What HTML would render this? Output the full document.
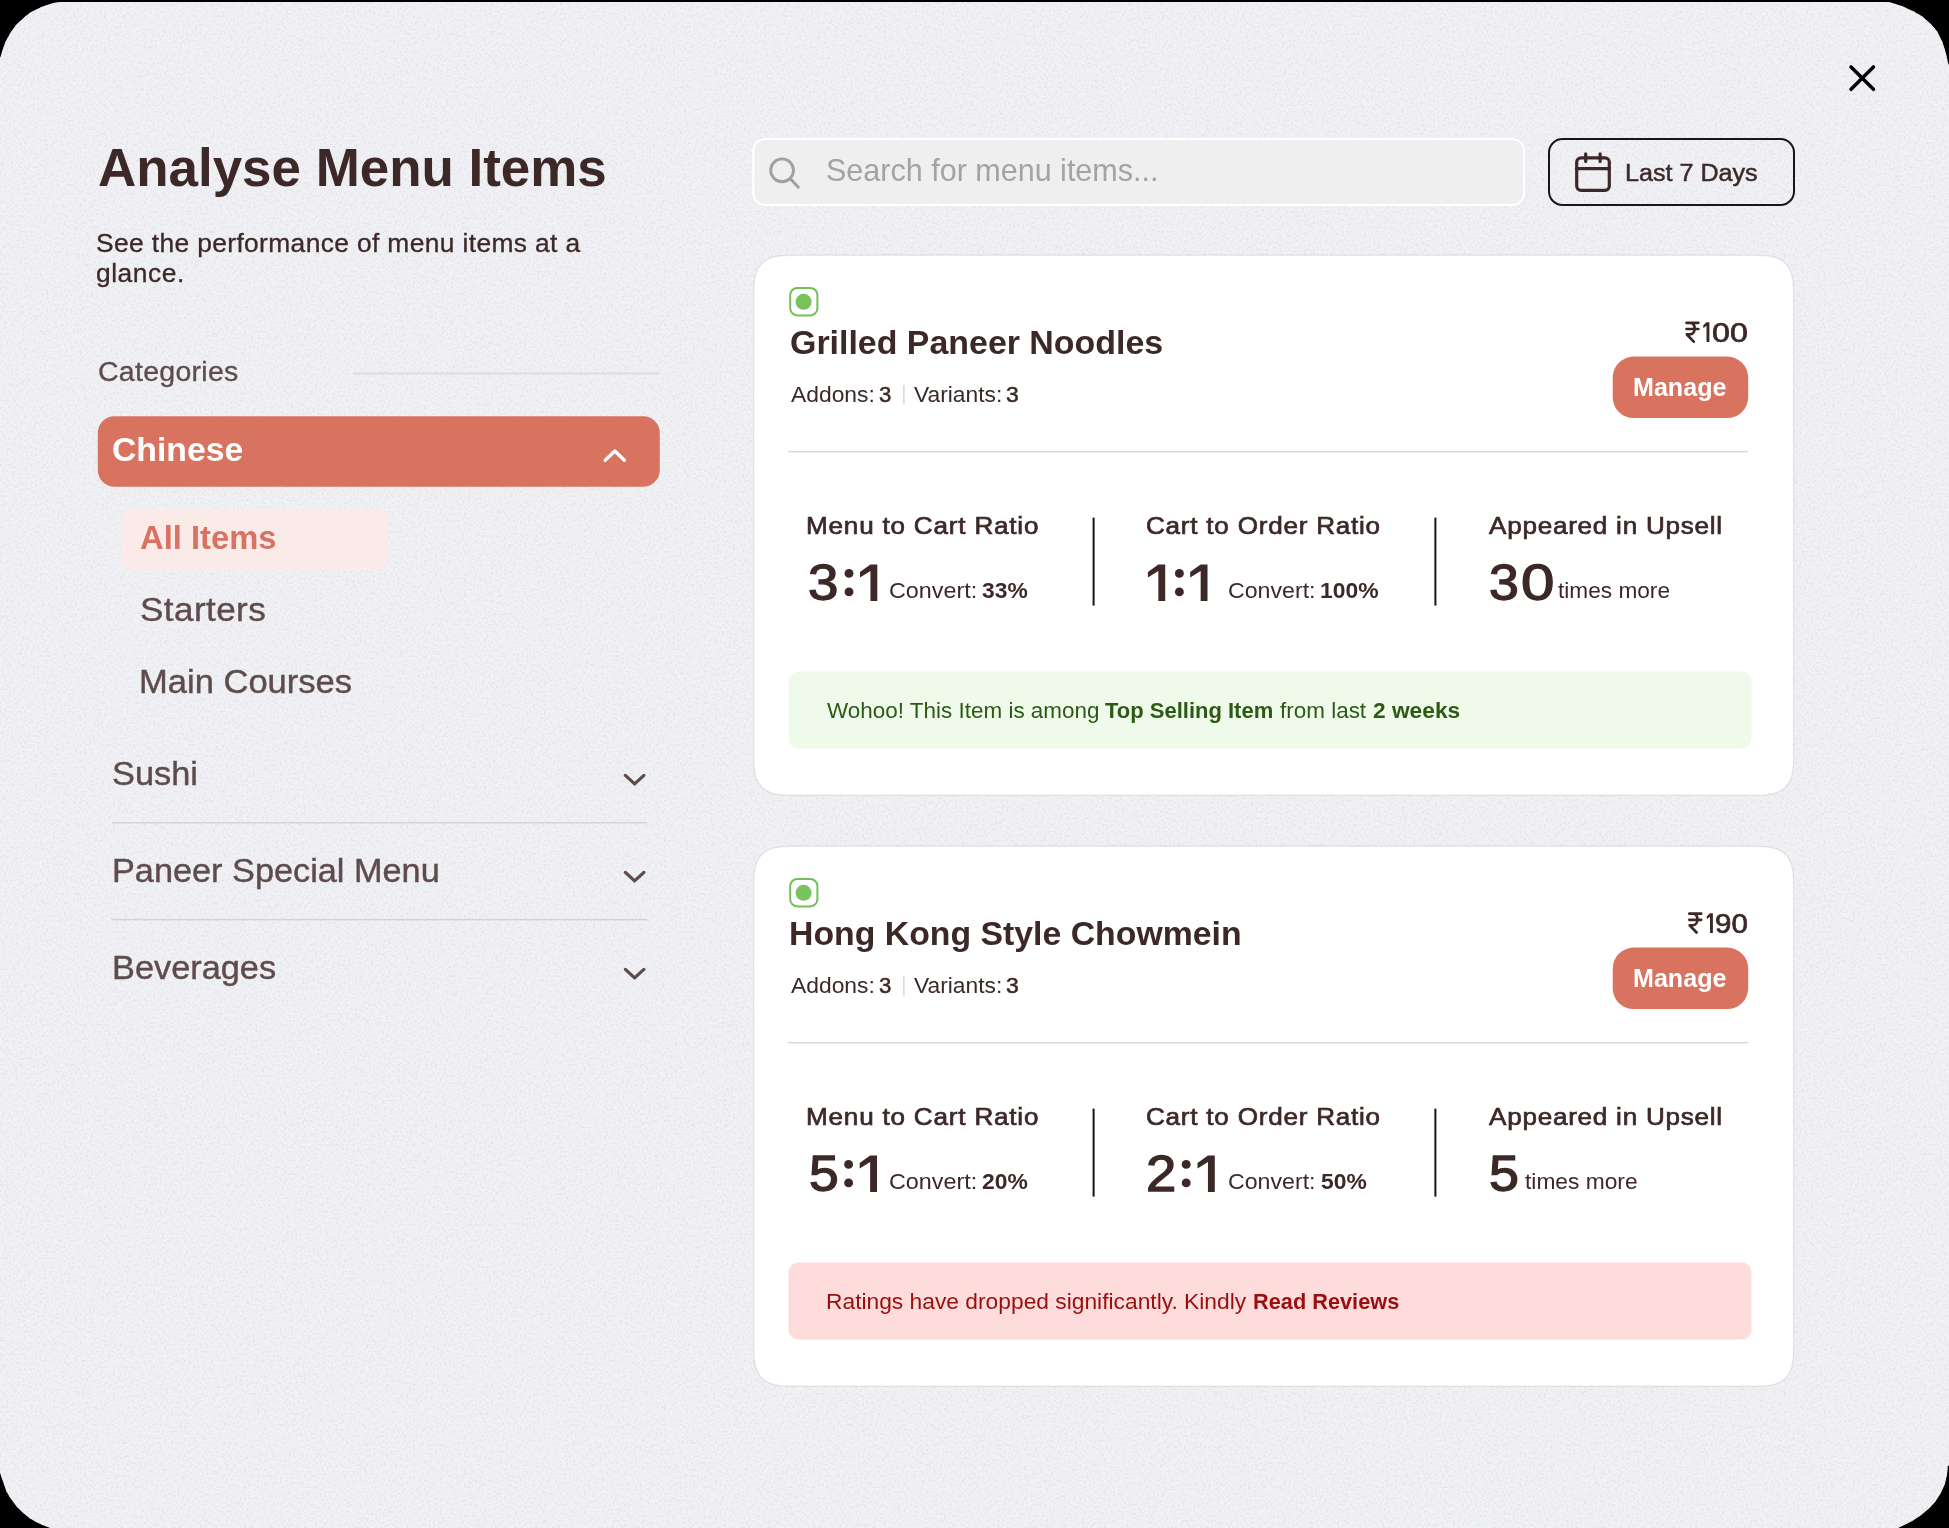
<!DOCTYPE html>
<html><head><meta charset="utf-8"><title>Analyse Menu Items</title>
<style>
html,body{margin:0;padding:0;background:#000;}
body{width:1949px;height:1528px;position:relative;overflow:hidden;font-family:"Liberation Sans",sans-serif;}
.abs,.t,.ln,.card{position:absolute;}
.t{white-space:nowrap;line-height:1;transform-origin:0 0;}
.card{left:754px;width:1040px;height:540px;border-radius:34px;background:#fff;box-shadow:0 0 0 1px rgba(120,120,140,0.10);}
</style></head><body>
<svg class="abs" style="left:0;top:0" width="1949" height="1528" viewBox="0 0 1949 1528">
<defs>
<filter id="nz" x="0" y="0" width="100%" height="100%" color-interpolation-filters="sRGB">
<feTurbulence type="fractalNoise" baseFrequency="0.45" numOctaves="1" seed="7" result="n"/>
<feColorMatrix in="n" type="matrix" values="0 0 0 0 0.908  0 0 0 0 0.906  0 0 0 0 0.927  6 0 0 0 -2.92"/>
</filter>
<clipPath id="pc"><path d="M0,58.6 L2.1,51.5 5.4,41.9 10.5,32.7 15.9,25.1 23.5,18 30.2,12.6 41.9,6.7 53.2,3.1 59.5,2 L1889.2,2 1901.8,5.9 1914.3,11.7 1922.7,16.8 1931.1,24.3 1937.4,31.8 1942.4,41.9 1945.7,52.4 1947.8,62 1949,66 L1949,1465.7 1947.8,1465.7 1947,1474.5 1944.9,1484.1 1940.7,1493.3 1935.3,1501.7 1929,1508.4 1920.6,1515.5 1912.2,1521 1903.8,1525.2 1898,1528 L50.3,1528 41.9,1524.7 35.6,1521.8 29.3,1518 22.6,1512.6 16.8,1506.7 10.5,1498.3 6.3,1491.2 4.2,1484.9 1.7,1477.8 0,1472.4 Z"/></clipPath>
</defs>
<path d="M0,58.6 L2.1,51.5 5.4,41.9 10.5,32.7 15.9,25.1 23.5,18 30.2,12.6 41.9,6.7 53.2,3.1 59.5,2 L1889.2,2 1901.8,5.9 1914.3,11.7 1922.7,16.8 1931.1,24.3 1937.4,31.8 1942.4,41.9 1945.7,52.4 1947.8,62 1949,66 L1949,1465.7 1947.8,1465.7 1947,1474.5 1944.9,1484.1 1940.7,1493.3 1935.3,1501.7 1929,1508.4 1920.6,1515.5 1912.2,1521 1903.8,1525.2 1898,1528 L50.3,1528 41.9,1524.7 35.6,1521.8 29.3,1518 22.6,1512.6 16.8,1506.7 10.5,1498.3 6.3,1491.2 4.2,1484.9 1.7,1477.8 0,1472.4 Z" fill="#f0f1f5"/>
<g clip-path="url(#pc)"><rect x="0" y="0" width="1949" height="1528" filter="url(#nz)"/></g>
<path d="M753.80,297.30 L753.97,286.61 L754.46,280.88 L755.29,276.28 L756.45,272.38 L757.95,268.99 L759.79,266.04 L761.98,263.48 L764.54,261.29 L767.49,259.45 L770.88,257.95 L774.78,256.79 L779.38,255.96 L785.11,255.47 L795.80,255.30 L1751.60,255.30 L1762.29,255.47 L1768.02,255.96 L1772.62,256.79 L1776.52,257.95 L1779.91,259.45 L1782.86,261.29 L1785.42,263.48 L1787.61,266.04 L1789.45,268.99 L1790.95,272.38 L1792.11,276.28 L1792.94,280.88 L1793.43,286.61 L1793.60,297.30 L1793.60,753.20 L1793.43,763.89 L1792.94,769.62 L1792.11,774.22 L1790.95,778.12 L1789.45,781.51 L1787.61,784.46 L1785.42,787.02 L1782.86,789.21 L1779.91,791.05 L1776.52,792.55 L1772.62,793.71 L1768.02,794.54 L1762.29,795.03 L1751.60,795.20 L795.80,795.20 L785.11,795.03 L779.38,794.54 L774.78,793.71 L770.88,792.55 L767.49,791.05 L764.54,789.21 L761.98,787.02 L759.79,784.46 L757.95,781.51 L756.45,778.12 L755.29,774.22 L754.46,769.62 L753.97,763.89 L753.80,753.20 Z" fill="#fff" stroke="rgba(30,30,30,0.085)" stroke-width="1.4"/>
<path d="M753.80,888.30 L753.97,877.61 L754.46,871.88 L755.29,867.28 L756.45,863.38 L757.95,859.99 L759.79,857.04 L761.98,854.48 L764.54,852.29 L767.49,850.45 L770.88,848.95 L774.78,847.79 L779.38,846.96 L785.11,846.47 L795.80,846.30 L1751.60,846.30 L1762.29,846.47 L1768.02,846.96 L1772.62,847.79 L1776.52,848.95 L1779.91,850.45 L1782.86,852.29 L1785.42,854.48 L1787.61,857.04 L1789.45,859.99 L1790.95,863.38 L1792.11,867.28 L1792.94,871.88 L1793.43,877.61 L1793.60,888.30 L1793.60,1344.20 L1793.43,1354.89 L1792.94,1360.62 L1792.11,1365.22 L1790.95,1369.12 L1789.45,1372.51 L1787.61,1375.46 L1785.42,1378.02 L1782.86,1380.21 L1779.91,1382.05 L1776.52,1383.55 L1772.62,1384.71 L1768.02,1385.54 L1762.29,1386.03 L1751.60,1386.20 L795.80,1386.20 L785.11,1386.03 L779.38,1385.54 L774.78,1384.71 L770.88,1383.55 L767.49,1382.05 L764.54,1380.21 L761.98,1378.02 L759.79,1375.46 L757.95,1372.51 L756.45,1369.12 L755.29,1365.22 L754.46,1360.62 L753.97,1354.89 L753.80,1344.20 Z" fill="#fff" stroke="rgba(30,30,30,0.085)" stroke-width="1.4"/>
</svg>

<!-- sidebar shapes -->

<!-- search + date -->


<svg class="abs" style="left:788px;top:286px" width="32" height="32" viewBox="0 0 32 32"><rect x="2.2" y="2" width="27.2" height="27.4" rx="7.1" fill="#fff" stroke="#72c056" stroke-width="2"/><circle cx="15.6" cy="15.8" r="8" fill="#79c35d"/></svg>


<svg class="abs" style="left:788px;top:877px" width="32" height="32" viewBox="0 0 32 32"><rect x="2.2" y="2" width="27.2" height="27.4" rx="7.1" fill="#fff" stroke="#72c056" stroke-width="2"/><circle cx="15.6" cy="15.8" r="8" fill="#79c35d"/></svg>


<svg class="abs" style="left:0;top:0" width="1949" height="1528" viewBox="0 0 1949 1528" fill="none" stroke-linecap="round" stroke-linejoin="round">
<g stroke="none"><rect x="97.8" y="416.3" width="562" height="70.4" rx="16.5" fill="#d87360"/>
<rect x="121.6" y="509" width="266.8" height="61" rx="12" fill="#faebe8"/>
<rect x="753.3" y="139" width="770.7" height="66" rx="12" fill="#efefef" stroke="#fff" stroke-width="2"/>
<rect x="1549" y="139" width="245" height="66" rx="13.5" fill="none" stroke="#1d1414" stroke-width="2"/>
<rect x="1612.7" y="356.6" width="135.5" height="61.5" rx="21" fill="#d87360"/>
<rect x="788.4" y="671.6" width="963.2" height="77" rx="10" fill="#effaeb"/>
<rect x="1612.7" y="947.6" width="135.5" height="61.5" rx="21" fill="#d87360"/>
<rect x="788.4" y="1262.6" width="963.2" height="77" rx="10" fill="#fedcdb"/>
<rect x="353" y="372.4" width="306" height="2.1" fill="#dcdde8"/>
<rect x="112.1" y="822.1" width="534.8" height="1.4" fill="#d2d2d7"/>
<rect x="112.1" y="918.9" width="534.8" height="1.4" fill="#d2d2d7"/>
<rect x="903.15" y="385" width="1.5" height="19.6" fill="#d8d6d6"/>
<rect x="788" y="451.0" width="960" height="1.4" fill="#d8d8d8"/>
<rect x="1092.6" y="517.6" width="2.0" height="88" fill="#1a1414"/>
<rect x="1434.4" y="517.6" width="2.0" height="88" fill="#1a1414"/>
<rect x="903.15" y="976" width="1.5" height="19.6" fill="#d8d6d6"/>
<rect x="788" y="1042.0" width="960" height="1.4" fill="#d8d8d8"/>
<rect x="1092.6" y="1108.6" width="2.0" height="88" fill="#1a1414"/>
<rect x="1434.4" y="1108.6" width="2.0" height="88" fill="#1a1414"/></g>
<path d="M1851.05,66.95 L1873.45,89.35 M1873.45,66.95 L1851.05,89.35" stroke="#000" stroke-width="3.5"/>
<path d="M605.2,460.3 L614.8,451 L624.4,460.3" stroke="#fff" stroke-width="3.3"/>
<path d="M625.4,775.4 L634.6,783.9 L643.9,775.4" stroke="#5e4b4b" stroke-width="3.3"/>
<path d="M625.4,872.4 L634.6,880.9 L643.9,872.4" stroke="#5e4b4b" stroke-width="3.3"/>
<path d="M625.4,969.4 L634.6,977.9 L643.9,969.4" stroke="#5e4b4b" stroke-width="3.3"/>
<circle cx="782.1" cy="170.3" r="11.4" stroke="#a0a0a0" stroke-width="2.9"/>
<path d="M790.4,178.8 L798.3,187.3" stroke="#a0a0a0" stroke-width="2.9"/>
<rect x="1576.7" y="157.8" width="32.6" height="32.6" rx="4.3" stroke="#3d2828" stroke-width="3.2"/>
<path d="M1576.7,168.6 H1609.3 M1585.7,153.8 V161.4 M1600.1,153.8 V161.4" stroke="#3d2828" stroke-width="3.2"/>
<circle cx="849.0" cy="573.4" r="4.45" fill="#3d2828"/><circle cx="849.0" cy="591.9" r="4.45" fill="#3d2828"/>
<circle cx="1179.4" cy="573.4" r="4.45" fill="#3d2828"/><circle cx="1179.4" cy="591.9" r="4.45" fill="#3d2828"/>
<path fill="#3d2828" d="M870.45,564.50 L877.30,564.50 L877.30,601.10 L870.45,601.10 L870.45,570.90 L860.00,577.50 L860.00,572.10 Z"/>
<path fill="#3d2828" d="M1158.35,564.50 L1165.20,564.50 L1165.20,601.10 L1158.35,601.10 L1158.35,570.90 L1147.90,577.50 L1147.90,572.10 Z"/>
<path fill="#3d2828" d="M1200.65,564.50 L1207.50,564.50 L1207.50,601.10 L1200.65,601.10 L1200.65,570.90 L1190.20,577.50 L1190.20,572.10 Z"/>
<circle cx="848.6" cy="1164.4" r="4.45" fill="#3d2828"/><circle cx="848.6" cy="1182.9" r="4.45" fill="#3d2828"/>
<circle cx="1186.2" cy="1164.4" r="4.45" fill="#3d2828"/><circle cx="1186.2" cy="1182.9" r="4.45" fill="#3d2828"/>
<path fill="#3d2828" d="M870.15,1155.50 L877.00,1155.50 L877.00,1192.10 L870.15,1192.10 L870.15,1161.90 L859.70,1168.50 L859.70,1163.10 Z"/>
<path fill="#3d2828" d="M1207.95,1155.50 L1214.80,1155.50 L1214.80,1192.10 L1207.95,1192.10 L1207.95,1161.90 L1197.50,1168.50 L1197.50,1163.10 Z"/>
<path fill="#3d2828" d="M1706.50,322.20 L1709.40,322.20 L1709.40,342.00 L1706.50,342.00 L1706.50,325.80 L1703.30,328.20 L1703.30,325.20 Z"/>
<path fill="#3d2828" d="M1710.00,913.20 L1712.90,913.20 L1712.90,933.00 L1710.00,933.00 L1710.00,916.80 L1706.80,919.20 L1706.80,916.20 Z"/>
<g transform="translate(1685.5,321.8) scale(1.03)" fill="none" stroke="#3d2828" stroke-width="2.62" stroke-linecap="round" stroke-linejoin="round"><path d="M1,1 H12.5 M1,7 H12.5 M1,1 H4.5 C10.5,1 10.5,12.3 4,12.3 H1.3 L8,19.3"/></g>
<g transform="translate(1688.3,912.6) scale(1.03)" fill="none" stroke="#3d2828" stroke-width="2.62" stroke-linecap="round" stroke-linejoin="round"><path d="M1,1 H12.5 M1,7 H12.5 M1,1 H4.5 C10.5,1 10.5,12.3 4,12.3 H1.3 L8,19.3"/></g>
</svg>

<div class="t" style="left:98.09px;top:141px;font-size:53.20px;color:#3d2828;transform:scaleX(0.9949);font-weight:700;">Analyse Menu Items</div>
<div class="t" style="left:95.52px;top:231px;font-size:25.00px;color:#3d2828;transform:scaleX(1.0550);letter-spacing:0.346px;-webkit-text-stroke:0.30px #3d2828;">See the performance of menu items at a</div>
<div class="t" style="left:96.14px;top:261px;font-size:25.00px;color:#3d2828;transform:scaleX(1.0550);letter-spacing:0.519px;-webkit-text-stroke:0.30px #3d2828;">glance.</div>
<div class="t" style="left:97.61px;top:359px;font-size:27.00px;color:#5e4b4b;transform:scaleX(1.0550);letter-spacing:0.270px;-webkit-text-stroke:0.32px #5e4b4b;">Categories</div>
<div class="t" style="left:112.16px;top:433px;font-size:33.87px;color:#ffffff;transform:scaleX(0.9968);font-weight:700;">Chinese</div>
<div class="t" style="left:139.88px;top:521px;font-size:33.87px;color:#d87363;transform:scaleX(0.9671);font-weight:700;">All Items</div>
<div class="t" style="left:140.22px;top:593px;font-size:33.29px;color:#5e4b4b;transform:scaleX(1.0550);letter-spacing:0.375px;-webkit-text-stroke:0.40px #5e4b4b;">Starters</div>
<div class="t" style="left:139.38px;top:665px;font-size:33.29px;color:#5e4b4b;transform:scaleX(1.0379);-webkit-text-stroke:0.40px #5e4b4b;">Main Courses</div>
<div class="t" style="left:112.06px;top:757px;font-size:33.29px;color:#5e4b4b;transform:scaleX(1.0327);-webkit-text-stroke:0.40px #5e4b4b;">Sushi</div>
<div class="t" style="left:111.80px;top:854px;font-size:33.29px;color:#5e4b4b;transform:scaleX(1.0298);-webkit-text-stroke:0.40px #5e4b4b;">Paneer Special Menu</div>
<div class="t" style="left:111.80px;top:951px;font-size:33.29px;color:#5e4b4b;transform:scaleX(1.0311);-webkit-text-stroke:0.40px #5e4b4b;">Beverages</div>
<div class="t" style="left:826.29px;top:156px;font-size:30.96px;color:#a3a3a3;transform:scaleX(0.9860);">Search for menu items...</div>
<div class="t" style="left:1624.52px;top:161px;font-size:24.58px;color:#3d2828;transform:scaleX(1.0224);-webkit-text-stroke:0.49px #3d2828;">Last 7 Days</div>
<div class="t" style="left:790.15px;top:326px;font-size:33.87px;color:#3d2828;transform:scaleX(1.0015);font-weight:700;">Grilled Paneer Noodles</div>
<div class="t" style="left:790.68px;top:384px;font-size:22.53px;color:#3d2828;transform:scaleX(1.0148);">Addons:</div>
<div class="t" style="left:878.90px;top:384px;font-size:21.77px;color:#3d2828;transform:scaleX(1.0163);-webkit-text-stroke:0.52px #3d2828;">3</div>
<div class="t" style="left:914.02px;top:384px;font-size:22.53px;color:#3d2828;transform:scaleX(1.0124);">Variants:</div>
<div class="t" style="left:1006.28px;top:384px;font-size:21.77px;color:#3d2828;transform:scaleX(1.0533);-webkit-text-stroke:0.52px #3d2828;">3</div>
<div class="t" style="left:805.84px;top:514px;font-size:24.72px;color:#3d2828;transform:scaleX(1.0550);letter-spacing:0.758px;-webkit-text-stroke:0.69px #3d2828;">Menu to Cart Ratio</div>
<div class="t" style="left:1145.53px;top:514px;font-size:24.72px;color:#3d2828;transform:scaleX(1.0550);letter-spacing:0.728px;-webkit-text-stroke:0.69px #3d2828;">Cart to Order Ratio</div>
<div class="t" style="left:1488.64px;top:514px;font-size:24.72px;color:#3d2828;transform:scaleX(1.0550);letter-spacing:0.713px;-webkit-text-stroke:0.69px #3d2828;">Appeared in Upsell</div>
<div class="t" style="left:808.22px;top:558px;font-size:50.00px;color:#3d2828;transform:scaleX(1.0944);-webkit-text-stroke:1.30px #3d2828;">3</div>
<div class="t" style="left:1488.75px;top:558px;font-size:50.00px;color:#3d2828;transform:scaleX(1.0744);-webkit-text-stroke:1.30px #3d2828;">3</div>
<div class="t" style="left:1520.91px;top:558px;font-size:50.00px;color:#3d2828;transform:scaleX(1.2008);-webkit-text-stroke:1.30px #3d2828;">0</div>
<div class="t" style="left:889.12px;top:580px;font-size:22.53px;color:#3d2828;transform:scaleX(1.0359);">Convert:</div>
<div class="t" style="left:982.26px;top:580px;font-size:22.53px;color:#3d2828;transform:scaleX(1.0149);font-weight:700;">33%</div>
<div class="t" style="left:1228.33px;top:580px;font-size:22.53px;color:#3d2828;transform:scaleX(1.0285);">Convert:</div>
<div class="t" style="left:1320.11px;top:580px;font-size:22.53px;color:#3d2828;transform:scaleX(1.0178);font-weight:700;">100%</div>
<div class="t" style="left:1558.41px;top:580px;font-size:22.53px;color:#3d2828;transform:scaleX(1.0060);">times more</div>
<div class="t" style="left:1633.31px;top:375px;font-size:25.00px;color:#ffffff;transform:scaleX(1.0035);font-weight:700;">Manage</div>
<div class="t" style="left:789.28px;top:917px;font-size:33.87px;color:#3d2828;transform:scaleX(0.9984);font-weight:700;">Hong Kong Style Chowmein</div>
<div class="t" style="left:790.68px;top:975px;font-size:22.53px;color:#3d2828;transform:scaleX(1.0148);">Addons:</div>
<div class="t" style="left:878.90px;top:975px;font-size:21.77px;color:#3d2828;transform:scaleX(1.0163);-webkit-text-stroke:0.52px #3d2828;">3</div>
<div class="t" style="left:914.02px;top:975px;font-size:22.53px;color:#3d2828;transform:scaleX(1.0124);">Variants:</div>
<div class="t" style="left:1006.28px;top:975px;font-size:21.77px;color:#3d2828;transform:scaleX(1.0533);-webkit-text-stroke:0.52px #3d2828;">3</div>
<div class="t" style="left:805.84px;top:1105px;font-size:24.72px;color:#3d2828;transform:scaleX(1.0550);letter-spacing:0.758px;-webkit-text-stroke:0.69px #3d2828;">Menu to Cart Ratio</div>
<div class="t" style="left:1145.53px;top:1105px;font-size:24.72px;color:#3d2828;transform:scaleX(1.0550);letter-spacing:0.728px;-webkit-text-stroke:0.69px #3d2828;">Cart to Order Ratio</div>
<div class="t" style="left:1488.64px;top:1105px;font-size:24.72px;color:#3d2828;transform:scaleX(1.0550);letter-spacing:0.713px;-webkit-text-stroke:0.69px #3d2828;">Appeared in Upsell</div>
<div class="t" style="left:808.55px;top:1149px;font-size:50.00px;color:#3d2828;transform:scaleX(1.0697);-webkit-text-stroke:1.30px #3d2828;">5</div>
<div class="t" style="left:1146.22px;top:1149px;font-size:50.00px;color:#3d2828;transform:scaleX(1.0896);-webkit-text-stroke:1.30px #3d2828;">2</div>
<div class="t" style="left:1489.24px;top:1149px;font-size:50.00px;color:#3d2828;transform:scaleX(1.0777);-webkit-text-stroke:1.30px #3d2828;">5</div>
<div class="t" style="left:889.12px;top:1171px;font-size:22.53px;color:#3d2828;transform:scaleX(1.0359);">Convert:</div>
<div class="t" style="left:982.22px;top:1171px;font-size:22.53px;color:#3d2828;transform:scaleX(1.0156);font-weight:700;">20%</div>
<div class="t" style="left:1228.33px;top:1171px;font-size:22.53px;color:#3d2828;transform:scaleX(1.0285);">Convert:</div>
<div class="t" style="left:1321.22px;top:1171px;font-size:22.53px;color:#3d2828;transform:scaleX(1.0157);font-weight:700;">50%</div>
<div class="t" style="left:1525.41px;top:1171px;font-size:22.53px;color:#3d2828;transform:scaleX(1.0114);">times more</div>
<div class="t" style="left:1633.31px;top:966px;font-size:25.00px;color:#ffffff;transform:scaleX(1.0035);font-weight:700;">Manage</div>
<div class="t" style="left:826.68px;top:700px;font-size:22.53px;color:#2c5a14;transform:scaleX(0.9974);">Wohoo! This Item is among</div>
<div class="t" style="left:1104.69px;top:700px;font-size:22.53px;color:#2c5a14;transform:scaleX(0.9769);font-weight:700;">Top Selling Item</div>
<div class="t" style="left:1279.64px;top:700px;font-size:22.53px;color:#2c5a14;transform:scaleX(0.9973);">from last</div>
<div class="t" style="left:1372.83px;top:700px;font-size:22.53px;color:#2c5a14;transform:scaleX(1.0089);font-weight:700;">2 weeks</div>
<div class="t" style="left:825.78px;top:1291px;font-size:22.53px;color:#9b0e0e;transform:scaleX(1.0121);">Ratings have dropped significantly. Kindly</div>
<div class="t" style="left:1252.52px;top:1291px;font-size:22.53px;color:#9b0e0e;transform:scaleX(0.9657);font-weight:700;">Read Reviews</div>
<div class="t" style="left:1712.18px;top:319px;font-size:27.73px;color:#3d2828;transform:scaleX(1.1614);-webkit-text-stroke:0.72px #3d2828;">00</div>
<div class="t" style="left:1715.27px;top:910px;font-size:27.73px;color:#3d2828;transform:scaleX(1.0629);-webkit-text-stroke:0.72px #3d2828;">90</div>
</body></html>
